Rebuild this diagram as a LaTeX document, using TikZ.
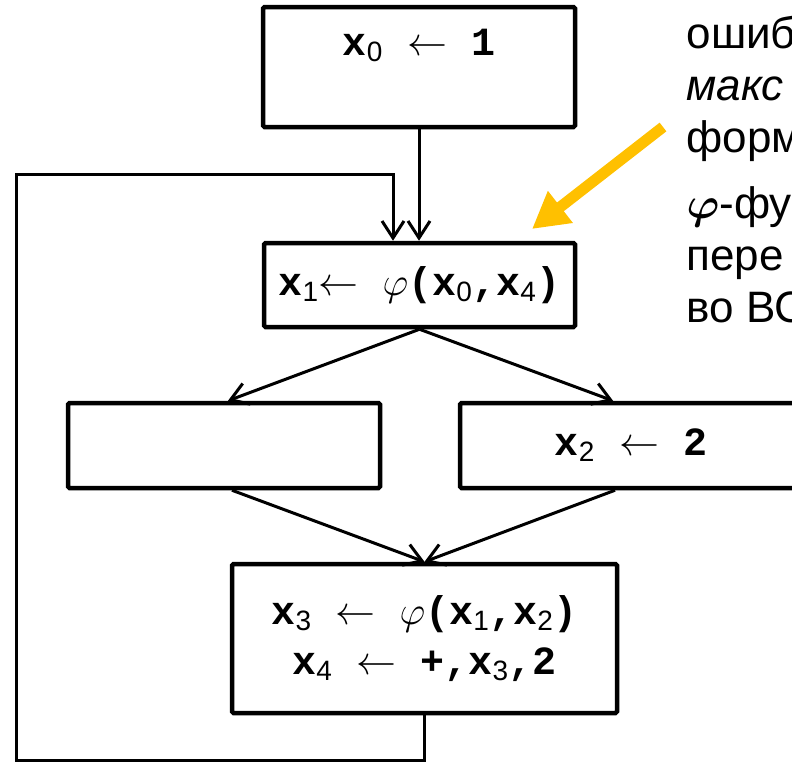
\RequirePackage{fix-cm}
\documentclass[tikz,border=0pt]{standalone}
\usepackage{fontspec}
\setmainfont{Liberation Sans}
\newfontfamily\codefont{Liberation Mono}
\usetikzlibrary{arrows.meta}
\definecolor{ptrcol}{HTML}{FFC000}
\newcommand{\xsub}[1]{\textbf{x}\textsubscript{\rmfamily\mdseries #1}}

\begin{document}
\begin{tikzpicture}[x=1pt,y=-1pt,
                blk/.style={draw,line width=4.5pt,rounded corners=1.5pt,inner sep=0pt,
                    font=\codefont\bfseries\fontsize{40}{50}\selectfont,align=center},
                arr/.style={line width=3pt,-{Straight Barb[length=17pt,width=22pt]}}]
                \useasboundingbox (0,0) rectangle (792,761);
                \clip (0,0) rectangle (792,761);
                \node[blk,minimum width=312pt,text height=48pt,text depth=72pt] (b0) at (419,67) {\xsub{0} $\leftarrow$ 1};
                \node[blk,minimum width=311pt,minimum height=84pt] (b1) at (419.5,285) {\xsub{1}$\leftarrow$ $\varphi$(\xsub{0},\xsub{4})};
                \node[blk,minimum width=312pt,minimum height=85pt] (bl) at (224,445.5) {};
                \node[blk,minimum width=342pt,minimum height=85pt] (br) at (631,445.5) {\xsub{2} $\leftarrow$ 2};
                \node[blk,minimum width=385pt,minimum height=149pt] (b3) at (424.5,638.5) {\xsub{3} $\leftarrow$ $\varphi$(\xsub{1},\xsub{2})\\\xsub{4} $\leftarrow$ +,\xsub{3},2};
                \node[anchor=base west,align=left,font=\fontsize{44}{52}\selectfont] (note) at (683,322) {ошиб\\\textit{макс}\\форм\\[14pt]{\boldmath$\varphi$}-фу\\пере\\во ВС};
                \coordinate (lpb) at (16,760);
                \coordinate (lpt) at (393,174);
                \coordinate (ps) at (663,127);
                \coordinate (pe) at (532,229);
                \draw[arr] (b0.south) -- (b1.north -| b0.south);
                \draw[arr] (b3.south) |- (lpb) |- (lpt) -- (lpt |- b1.north);
                \draw[arr] (b1.south) -- ([xshift=4pt]bl.north);
                \draw[arr] (b1.south) -- ([xshift=-18pt]br.north);
                \draw[arr] ([xshift=8pt]bl.south) -- (b3.north);
                \draw[arr] ([xshift=-16pt]br.south) -- (b3.north);
                \draw[line width=11pt,ptrcol,-{Triangle[length=36pt,width=38pt]}] (ps) -- (pe);
\end{tikzpicture}
\end{document}
